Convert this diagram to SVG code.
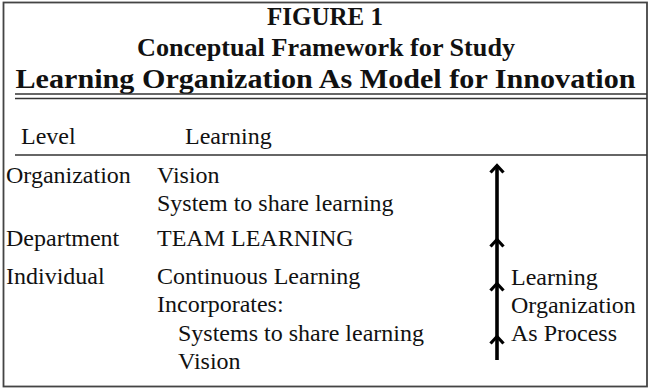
<svg xmlns="http://www.w3.org/2000/svg" width="649" height="389" viewBox="0 0 649 389">
<style>
.t{font-family:"Liberation Serif","Times New Roman",serif;fill:#111}
.h{font-weight:bold;font-size:26px;text-anchor:middle}
.b{font-size:24px}
.rule{stroke:#333;stroke-width:1.6;fill:none}
.shaft{stroke:#000;stroke-width:3.6;fill:none}
.chev{stroke:#000;stroke-width:3.2;fill:none;stroke-linejoin:miter;stroke-linecap:butt}
</style>
<defs>
<path id="chev" d="M-6.5,7.5 L0,0.5 L6.5,7.5"/>
</defs>
<rect x="3.5" y="2.5" width="643.5" height="384" fill="#fff" stroke="#444" stroke-width="1.8"/>
<g id="title">
<text class="t h" x="325" y="25" textLength="116" lengthAdjust="spacingAndGlyphs">FIGURE 1</text>
<text class="t h" x="326" y="56" textLength="378" lengthAdjust="spacingAndGlyphs">Conceptual Framework for Study</text>
<text class="t h" x="325.5" y="88" style="font-size:28px" textLength="620" lengthAdjust="spacingAndGlyphs">Learning Organization As Model for Innovation</text>
<line class="rule" x1="15" y1="94" x2="647" y2="94"/>
<line class="rule" x1="15" y1="98.5" x2="647" y2="98.5"/>
</g>
<g id="header">
<text class="t b" x="21" y="144">Level</text>
<text class="t b" x="185" y="144">Learning</text>
<line class="rule" x1="15" y1="155" x2="647" y2="155"/>
</g>
<g id="organization">
<text class="t b" x="6" y="183">Organization</text>
<text class="t b" x="157" y="183">Vision</text>
<text class="t b" x="157" y="211">System to share learning</text>
</g>
<g id="department">
<text class="t b" x="6" y="246">Department</text>
<text class="t b" x="157" y="246">TEAM  LEARNING</text>
</g>
<g id="individual">
<text class="t b" x="6" y="284">Individual</text>
<text class="t b" x="157" y="284">Continuous Learning</text>
<text class="t b" x="157" y="312">Incorporates:</text>
<text class="t b" x="178" y="341">Systems to share learning</text>
<text class="t b" x="178" y="369">Vision</text>
</g>
<g id="process-label">
<text class="t b" x="511" y="285">Learning</text>
<text class="t b" x="511" y="313">Organization</text>
<text class="t b" x="511" y="341">As Process</text>
</g>
<g id="connectors">
<line class="shaft" x1="497" y1="168" x2="497" y2="360"/>
<use href="#chev" class="chev" x="497" y="165"/>
<use href="#chev" class="chev" x="497" y="239"/>
<use href="#chev" class="chev" x="497" y="283"/>
<use href="#chev" class="chev" x="497" y="336"/>
</g>
</svg>
